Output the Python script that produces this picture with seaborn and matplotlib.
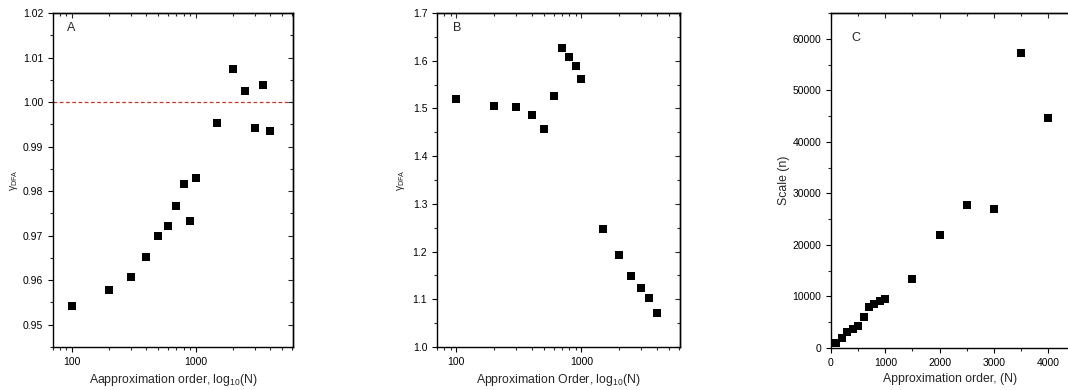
import numpy as np
import pandas as pd
import matplotlib
matplotlib.use("Agg")
import matplotlib.pyplot as plt
import seaborn as sns
from matplotlib.ticker import MultipleLocator, LogLocator, FixedLocator, NullFormatter, FormatStrFormatter

order = [100, 200, 300, 400, 500, 600, 700, 800, 900, 1000, 1500, 2000, 2500, 3000, 3500, 4000]
gamma_a = [0.9541, 0.9577, 0.9608, 0.9651, 0.9699, 0.9721, 0.9767, 0.9816, 0.9734, 0.9829,
           0.9952, 1.0075, 1.0024, 0.9942, 1.0038, 0.9934]
gamma_b = [1.519, 1.506, 1.504, 1.487, 1.457, 1.527, 1.626, 1.607, 1.588, 1.562,
           1.247, 1.193, 1.148, 1.124, 1.103, 1.071]
scale_c = [1040, 2010, 3050, 3760, 4280, 6030, 8040, 8560, 9080, 9600,
           13300, 21920, 27760, 27050, 57210, 44630]

sns.set_style("ticks")
plt.rcParams['font.family'] = ['Liberation Sans', 'DejaVu Sans']
plt.rcParams['mathtext.fontset'] = 'custom'
plt.rcParams['mathtext.rm'] = 'Liberation Sans'
plt.rcParams['mathtext.it'] = 'Liberation Sans'

W, H = 1068, 390
fig = plt.figure(figsize=(W / 100, H / 100), dpi=100)

def pos(l, r, t, b):
    return [l / W, 1 - b / H, (r - l) / W, (b - t) / H]

axA = fig.add_axes(pos(53, 293, 13, 347))
axB = fig.add_axes(pos(437, 680, 13, 347))
xr_c = 831 + (1068 - 831) * 4400 / 4362
axC = fig.add_axes(pos(831, xr_c, 13, 348))

df = pd.DataFrame({"order": order, "a": gamma_a, "b": gamma_b, "c": scale_c})

kw = dict(marker="s", color="black", s=26, linewidth=0, legend=False)
sns.scatterplot(data=df, x="order", y="a", ax=axA, **kw)
sns.scatterplot(data=df, x="order", y="b", ax=axB, **kw)
sns.scatterplot(data=df, x="order", y="c", ax=axC, **kw)

axA.axhline(1.0, color="#c0392b", linestyle=(0, (3, 2)), linewidth=0.9, zorder=0)

for ax in (axA, axB):
    ax.set_xscale("log")
    ax.set_xlim(70, 6150)
    ax.xaxis.set_major_locator(FixedLocator([100, 1000]))
    ax.xaxis.set_major_formatter(FormatStrFormatter("%d"))
    ax.xaxis.set_minor_locator(LogLocator(base=10, subs=np.arange(2, 10)))
    ax.xaxis.set_minor_formatter(NullFormatter())

axA.set_ylim(0.945, 1.02)
axA.yaxis.set_major_locator(MultipleLocator(0.01))
axA.yaxis.set_minor_locator(MultipleLocator(0.005))
axA.yaxis.set_major_formatter(FormatStrFormatter("%.2f"))

axB.set_ylim(1.0, 1.7)
axB.yaxis.set_major_locator(MultipleLocator(0.1))
axB.yaxis.set_minor_locator(MultipleLocator(0.05))
axB.yaxis.set_major_formatter(FormatStrFormatter("%.1f"))

axC.set_xlim(0, 4400)
axC.set_ylim(0, 65000)
axC.xaxis.set_major_locator(MultipleLocator(1000))
axC.xaxis.set_minor_locator(MultipleLocator(500))
axC.yaxis.set_major_locator(MultipleLocator(10000))
axC.yaxis.set_minor_locator(MultipleLocator(5000))

for ax in (axA, axB, axC):
    for s in ax.spines.values():
        s.set_linewidth(1.0)
        s.set_color("black")
    ax.tick_params(axis="both", which="major", direction="out", length=3.5, width=0.8,
                   labelsize=7.5, colors="black", top=False, right=False)
    ax.tick_params(axis="both", which="minor", direction="out", length=2, width=0.8)
    # mirrored inward ticks on top (and right for A, B)
    sec_x = ax.secondary_xaxis("top")
    if ax is not axC:
        sec_x.xaxis.set_major_locator(FixedLocator([100, 1000]))
        sec_x.xaxis.set_minor_locator(LogLocator(base=10, subs=np.arange(2, 10)))
        sec_x.xaxis.set_minor_formatter(NullFormatter())
    else:
        sec_x.xaxis.set_major_locator(MultipleLocator(1000))
        sec_x.xaxis.set_minor_locator(MultipleLocator(500))
    sec_x.tick_params(which="major", direction="in", length=3.5, width=0.8, labeltop=False)
    sec_x.tick_params(which="minor", direction="in", length=2, width=0.8)
    sec_x.set_xticklabels([])
    for s in sec_x.spines.values():
        s.set_linewidth(1.0)
    if ax is not axC:
        sec_y = ax.secondary_yaxis("right")
        sec_y.yaxis.set_major_locator(ax.yaxis.get_major_locator())
        sec_y.yaxis.set_minor_locator(ax.yaxis.get_minor_locator())
        sec_y.tick_params(which="major", direction="in", length=3.5, width=0.8, labelright=False)
        sec_y.tick_params(which="minor", direction="in", length=2, width=0.8)
        sec_y.set_yticklabels([])
        for s in sec_y.spines.values():
            s.set_linewidth(1.0)

axA.set_xlabel("Aapproximation order, log$_{10}$(N)", fontsize=8.8, labelpad=4)
axB.set_xlabel("Approximation Order, log$_{10}$(N)", fontsize=8.8, labelpad=4)
axC.set_xlabel("Approximation order, (N)", fontsize=8.8, labelpad=4)
axA.set_ylabel("γ$_{\\mathrm{DFA}}$", fontsize=7.5, labelpad=2)
axB.set_ylabel("γ$_{\\mathrm{DFA}}$", fontsize=7.5, labelpad=4)
axC.set_ylabel("Scale (n)", fontsize=8.8, labelpad=2)

axA.text(0.06, 0.955, "A", transform=axA.transAxes, fontsize=9, va="center", ha="left")
axB.text(0.065, 0.955, "B", transform=axB.transAxes, fontsize=9, va="center", ha="left")
axC.text(0.085, 0.925, "C", transform=axC.transAxes, fontsize=9, va="center", ha="left")

fig.savefig("out.png", dpi=100)
